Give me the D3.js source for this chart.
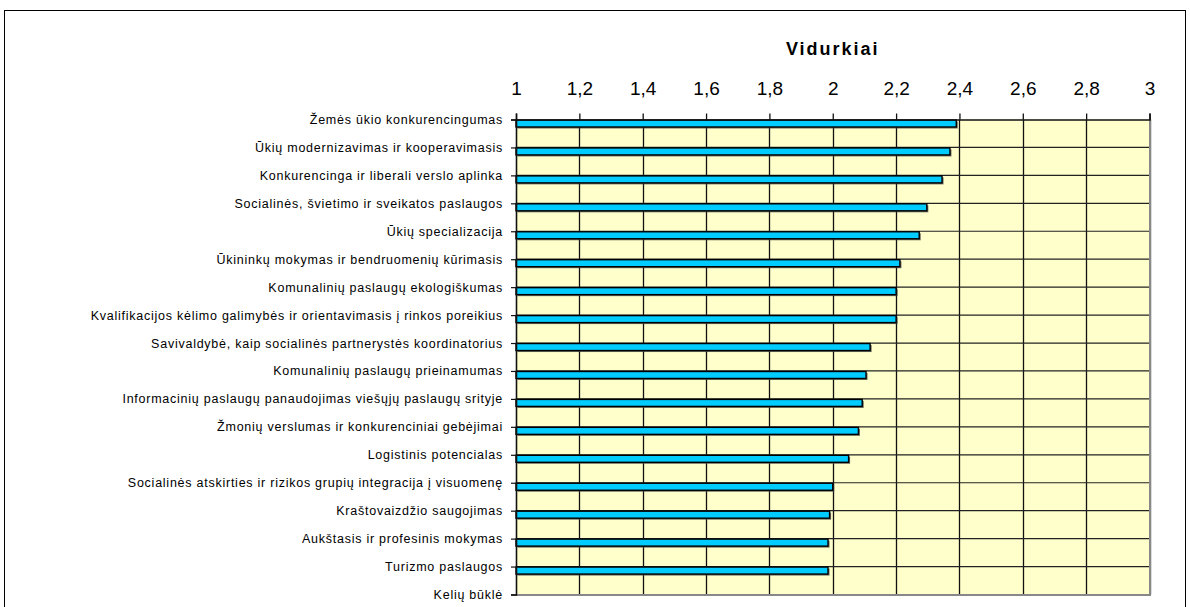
<!DOCTYPE html>
<html>
<head>
<meta charset="utf-8">
<script src="https://cdn.jsdelivr.net/npm/d3@7"></script>
<style>
  body { margin: 0; background: #fff; }
  svg { display: block; font-family: "Liberation Sans", Arial, sans-serif; }
</style>
</head>
<body>
<svg id="chart" width="1190" height="607"></svg>
<script>
// categories top to bottom, the last one has no visible bar
const categories = [
  "Žemės ūkio konkurencingumas",
  "Ūkių modernizavimas ir kooperavimasis",
  "Konkurencinga ir liberali verslo aplinka",
  "Socialinės, švietimo ir sveikatos paslaugos",
  "Ūkių specializacija",
  "Ūkininkų mokymas ir bendruomenių kūrimasis",
  "Komunalinių paslaugų ekologiškumas",
  "Kvalifikacijos kėlimo galimybės ir orientavimasis į rinkos poreikius",
  "Savivaldybė, kaip socialinės partnerystės koordinatorius",
  "Komunalinių paslaugų prieinamumas",
  "Informacinių paslaugų panaudojimas viešųjų paslaugų srityje",
  "Žmonių verslumas ir konkurenciniai gebėjimai",
  "Logistinis potencialas",
  "Socialinės atskirties ir rizikos grupių integracija į visuomenę",
  "Kraštovaizdžio saugojimas",
  "Aukštasis ir profesinis mokymas",
  "Turizmo paslaugos",
  "Kelių būklė"
];
const averages = [2.39, 2.37, 2.345, 2.297, 2.273, 2.212, 2.2, 2.2, 2.118, 2.105,
  2.093, 2.081, 2.05, 2.0, 1.99, 1.985, 1.985, null];
const xTicks = [1, 1.2, 1.4, 1.6, 1.8, 2, 2.2, 2.4, 2.6, 2.8, 3];
const title = "Vidurkiai";

const svg = d3.select("#chart");
const plotLeft = 516, plotRight = 1149.5, plotTop = 119.5, plotBottom = 594.5;

// outer frame
svg.append("rect")
  .attr("x", 4.5).attr("y", 10.5)
  .attr("width", 1181).attr("height", 620)
  .attr("fill", "#fff").attr("stroke", "#000").attr("stroke-width", 1);

const x = d3.scaleLinear().domain([1, 3]).range([plotLeft, plotRight]);
const y = d3.scalePoint().domain(categories).range([plotTop, plotBottom]);

const plot = svg.append("g");
plot.append("rect")
  .attr("x", plotLeft).attr("y", plotTop)
  .attr("width", plotRight - plotLeft).attr("height", plotBottom - plotTop)
  .attr("fill", "#ffffcc");

// vertical grid
plot.selectAll("line.vg")
  .data(xTicks.slice(1))
  .join("line")
  .attr("class", "vg")
  .attr("x1", (d) => Math.round(x(d)) + 0.5).attr("x2", (d) => Math.round(x(d)) + 0.5)
  .attr("y1", plotTop).attr("y2", plotBottom)
  .attr("stroke", "#111").attr("stroke-width", 1.3);

// horizontal grid
plot.selectAll("line.hg")
  .data(categories.slice(1, -1))
  .join("line")
  .attr("class", "hg")
  .attr("x1", plotLeft).attr("x2", plotRight)
  .attr("y1", (d) => y(d)).attr("y2", (d) => y(d))
  .attr("stroke", "#222").attr("stroke-width", 1.2);

// plot border right / bottom (gray)
plot.append("path")
  .attr("d", `M${plotRight + 0.5},${plotTop} V${plotBottom + 0.5} H${plotLeft}`)
  .attr("fill", "none").attr("stroke", "#888").attr("stroke-width", 2);

const rows = categories
  .map((c, i) => ({ c, v: averages[i] }))
  .filter((d) => d.v != null);

// bar shadows
plot.selectAll("rect.shadow")
  .data(rows)
  .join("rect")
  .attr("class", "shadow")
  .attr("x", x(1) + 1.5)
  .attr("y", (d) => y(d.c) + 2)
  .attr("width", (d) => x(d.v) - x(1))
  .attr("height", 7)
  .attr("fill", "#444").attr("opacity", 0.8);

// bars
plot.selectAll("rect.bar")
  .data(rows)
  .join("rect")
  .attr("class", "bar")
  .attr("x", x(1))
  .attr("y", (d) => y(d.c) + 0.5)
  .attr("width", (d) => x(d.v) - x(1))
  .attr("height", 7)
  .attr("fill", "#00ccff")
  .attr("stroke", "#000").attr("stroke-width", 1.4);

// top axis
const xAxis = d3.axisTop(x)
  .tickValues(xTicks)
  .tickSize(6)
  .tickPadding(19)
  .tickFormat((d) => String(d).replace(".", ","));
const gx = svg.append("g").attr("transform", `translate(0,${plotTop})`).call(xAxis);
gx.select(".domain").attr("stroke", "#111").attr("stroke-width", 1.6);
gx.selectAll(".tick line").attr("stroke", "#111").attr("stroke-width", 1.3);
gx.selectAll("text")
  .attr("font-family", "'Liberation Sans', Arial, sans-serif")
  .attr("font-size", 19).attr("fill", "#000");

// left axis
const yAxis = d3.axisLeft(y).tickSize(5).tickPadding(8);
const gy = svg.append("g").attr("transform", `translate(${plotLeft},0)`).call(yAxis);
gy.select(".domain").attr("stroke", "#111").attr("stroke-width", 1.6);
gy.selectAll(".tick line").attr("stroke", "#111").attr("stroke-width", 1.2);
gy.selectAll("text")
  .attr("font-family", "'Liberation Sans', Arial, sans-serif")
  .attr("font-size", 12.5)
  .attr("letter-spacing", 0.75)
  .attr("fill", "#000");

// title
svg.append("text")
  .attr("x", (plotLeft + plotRight) / 2).attr("y", 55)
  .attr("text-anchor", "middle")
  .attr("font-size", 18).attr("font-weight", "bold")
  .attr("letter-spacing", 2)
  .text(title);
</script>
</body>
</html>
